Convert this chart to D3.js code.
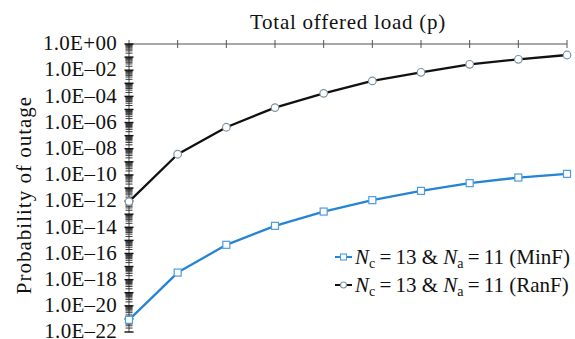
<!DOCTYPE html>
<html>
<head>
<meta charset="utf-8">
<script src="https://cdn.jsdelivr.net/npm/d3@7"></script>
<style>
  body { margin: 0; background: #fff; }
  svg text { font-family: "Liberation Serif", "DejaVu Serif", serif; fill: #111; }
</style>
</head>
<body>
<div id="chart"></div>
<script>
// total offered load (p) points
const loads = [1, 2, 3, 4, 5, 6, 7, 8, 9, 10];
// log10 of outage probability
const minF = [-21.07, -17.46, -15.34, -13.89, -12.8, -11.93, -11.22, -10.63, -10.2, -9.92];
const ranF = [-12.04, -8.42, -6.36, -4.86, -3.77, -2.82, -2.16, -1.55, -1.17, -0.84];
const yLabelExps = [0, -2, -4, -6, -8, -10, -12, -14, -16, -18, -20, -22];

const width = 575, height = 339;
const plotL = 129, plotR = 567, plotT = 44, plotB = 332;

const svg = d3.select("#chart").append("svg")
  .attr("width", width)
  .attr("height", height);

const x = d3.scaleLinear().domain([1, 10]).range([plotL, plotR]);
const y = d3.scaleLog().domain([1e-22, 1]).range([plotB, plotT]);

// top axis
svg.append("line")
  .attr("x1", plotL).attr("x2", plotR)
  .attr("y1", plotT).attr("y2", plotT)
  .attr("stroke", "#8a8a8a").attr("stroke-width", 1.3);
svg.selectAll(".xtick").data(loads).enter().append("line")
  .attr("x1", d => x(d)).attr("x2", d => x(d))
  .attr("y1", plotT - 4).attr("y2", plotT + 4)
  .attr("stroke", "#555").attr("stroke-width", 1);

// left axis
svg.append("line")
  .attr("x1", plotL).attr("x2", plotL)
  .attr("y1", plotT).attr("y2", plotB)
  .attr("stroke", "#777").attr("stroke-width", 1.3);

let minor = [];
for (let e = -22; e < 0; e++) {
  for (let k = 2; k <= 9; k++) minor.push(k * Math.pow(10, e));
}
svg.selectAll(".ymin").data(minor).enter().append("line")
  .attr("x1", plotL - 3.5).attr("x2", plotL + 3.5)
  .attr("y1", d => y(d)).attr("y2", d => y(d))
  .attr("stroke", "#222").attr("stroke-width", 0.9);
const majors = d3.range(-22, 1).map(e => Math.pow(10, e));
svg.selectAll(".ymaj").data(majors).enter().append("line")
  .attr("x1", plotL - 4.5).attr("x2", plotL + 4.5)
  .attr("y1", d => y(d)).attr("y2", d => y(d))
  .attr("stroke", "#111").attr("stroke-width", 1.4);

svg.selectAll(".ylab").data(yLabelExps).enter().append("text")
  .attr("x", 117)
  .attr("y", d => y(Math.pow(10, d)))
  .attr("dy", "0.3em")
  .attr("text-anchor", "end")
  .attr("font-size", 21)
  .attr("letter-spacing", 0.3)
  .text(d => "1.0E" + (d < 0 ? "\u2013" : "+") + String(Math.abs(d)).padStart(2, "0"));

// titles
svg.append("text")
  .attr("x", 348).attr("y", 29)
  .attr("text-anchor", "middle")
  .attr("font-size", 21)
  .attr("letter-spacing", 0.75)
  .text("Total offered load (p)");
svg.append("text")
  .attr("transform", "translate(31,195) rotate(-90)")
  .attr("text-anchor", "middle")
  .attr("font-size", 21)
  .attr("letter-spacing", 1)
  .text("Probability of outage");

// series
const series = [
  { name: "MinF", vals: minF, color: "#2684d4", marker: "square" },
  { name: "RanF", vals: ranF, color: "#111", marker: "circle" }
];
const line = d3.line()
  .x((d, i) => x(loads[i]))
  .y(d => y(Math.pow(10, d)));

series.forEach(s => {
  svg.append("path")
    .datum(s.vals)
    .attr("d", line)
    .attr("fill", "none")
    .attr("stroke", s.color)
    .attr("stroke-width", 2.3)
    .attr("stroke-linejoin", "round");
  const pts = svg.selectAll(".pt-" + s.name).data(s.vals).enter();
  if (s.marker === "square") {
    pts.append("rect")
      .attr("x", (d, i) => x(loads[i]) - 3.5)
      .attr("y", d => y(Math.pow(10, d)) - 3.5)
      .attr("width", 7).attr("height", 7)
      .attr("fill", "#fff").attr("stroke", "#4d9be0").attr("stroke-width", 1.2);
  } else {
    pts.append("circle")
      .attr("cx", (d, i) => x(loads[i]))
      .attr("cy", d => y(Math.pow(10, d)))
      .attr("r", 3.8)
      .attr("fill", "#fff").attr("stroke", "#7e93a3").attr("stroke-width", 1.2);
  }
});

// legend
const legend = svg.append("g");
series.forEach((s, i) => {
  const ly = 257 + i * 28;
  legend.append("line")
    .attr("x1", 335).attr("x2", 352)
    .attr("y1", ly).attr("y2", ly)
    .attr("stroke", s.color).attr("stroke-width", 2);
  if (s.marker === "square") {
    legend.append("rect")
      .attr("x", 340.5).attr("y", ly - 3)
      .attr("width", 6).attr("height", 6)
      .attr("fill", "#fff").attr("stroke", "#4d9be0").attr("stroke-width", 1.1);
  } else {
    legend.append("circle")
      .attr("cx", 343.5).attr("cy", ly).attr("r", 3)
      .attr("fill", "#fff").attr("stroke", "#7e93a3").attr("stroke-width", 1.1);
  }
  const t = legend.append("text")
    .attr("x", 355).attr("y", ly)
    .attr("dy", "0.34em")
    .attr("font-size", 21);
  t.append("tspan").attr("font-style", "italic").text("N");
  t.append("tspan").attr("font-size", 14).attr("dy", 4).text("c");
  t.append("tspan").attr("dy", -4).text("\u2009=\u200913 & ");
  t.append("tspan").attr("font-style", "italic").text("N");
  t.append("tspan").attr("font-size", 14).attr("dy", 4).text("a");
  t.append("tspan").attr("dy", -4).text("\u2009=\u200911 (" + s.name + ")");
});
</script>
</body>
</html>
